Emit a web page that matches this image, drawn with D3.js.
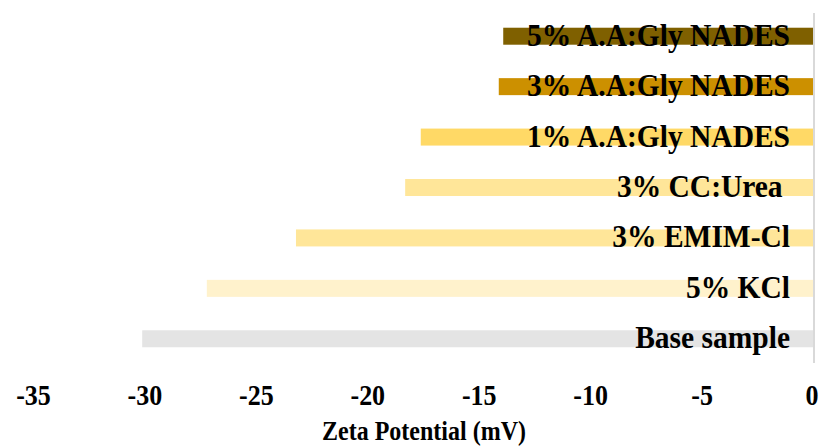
<!DOCTYPE html>
<html>
<head>
<meta charset="utf-8">
<script src="https://cdn.jsdelivr.net/npm/d3@7"></script>
<style>
  html, body { margin: 0; padding: 0; background: #fff; }
  svg { display: block; }
  text { font-family: "Liberation Serif", "Times New Roman", serif; font-weight: bold; fill: #000; }
</style>
</head>
<body>
<svg id="chart" width="819" height="446"></svg>
<script>
// Samples, top to bottom
const samples = ["5% A.A:Gly NADES", "3% A.A:Gly NADES", "1% A.A:Gly NADES", "3% CC:Urea ", "3% EMIM-Cl", "5% KCl", "Base sample"];
// Zeta potential in mV
const zeta = [-13.9, -14.1, -17.6, -18.3, -23.2, -27.2, -30.1];
const barColors = ["#7F6000", "#CC9000", "#FFD966", "#FFE699", "#FFE699", "#FFF2CC", "#E4E4E4"];
const tickValues = [-35, -30, -25, -20, -15, -10, -5, 0];
const axisTitle = "Zeta Potential (mV)";

const svg = d3.select("#chart");

const x = d3.scaleLinear().domain([-35, 0]).range([33, 813]);
const y = d3.scaleBand().domain(samples).range([11, 364]).paddingInner(0.663).paddingOuter(0.3315);

const rows = samples.map((s, i) => ({ name: s, value: zeta[i], color: barColors[i] }));

// Bars grow leftward from zero
svg.append("g").selectAll("rect")
  .data(rows)
  .join("rect")
  .attr("x", d => x(d.value))
  .attr("y", d => y(d.name))
  .attr("width", d => x(0) - x(d.value))
  .attr("height", y.bandwidth())
  .attr("fill", d => d.color);

// Vertical axis line at zero
svg.append("line")
  .attr("x1", x(0) + 1).attr("x2", x(0) + 1)
  .attr("y1", 13).attr("y2", 363)
  .attr("stroke", "#D9D9D9")
  .attr("stroke-width", 2);

// Category labels inside the bars, right aligned, slightly tall type
svg.append("g").selectAll("text")
  .data(rows)
  .join("text")
  .attr("transform", d => `translate(790,${y(d.name) + y.bandwidth() / 2 + 9.5}) scale(1,1.04)`)
  .attr("text-anchor", "end")
  .style("white-space", "pre")
  .attr("font-size", 29.5)
  .text(d => d.name);

// Bottom axis (labels only)
const xAxis = d3.axisBottom(x).tickValues(tickValues).tickSize(0).tickPadding(0).tickFormat(d => String(d));
const gx = svg.append("g").call(xAxis);
gx.select(".domain").remove();
gx.selectAll("text")
  .attr("y", 0)
  .attr("dy", null)
  .attr("transform", d => `translate(${d === 0 ? -1.5 : 0},405) scale(1,1.15)`)
  .attr("font-family", null)
  .attr("font-size", null)
  .style("font-family", "'Liberation Serif', 'Times New Roman', serif")
  .style("font-weight", "bold")
  .style("font-size", "26px")
  .attr("fill", "#000");

svg.append("text")
  .attr("transform", "translate(424,440) scale(1,1.15)")
  .attr("text-anchor", "middle")
  .attr("font-size", 24)
  .text(axisTitle);
</script>
</body>
</html>
